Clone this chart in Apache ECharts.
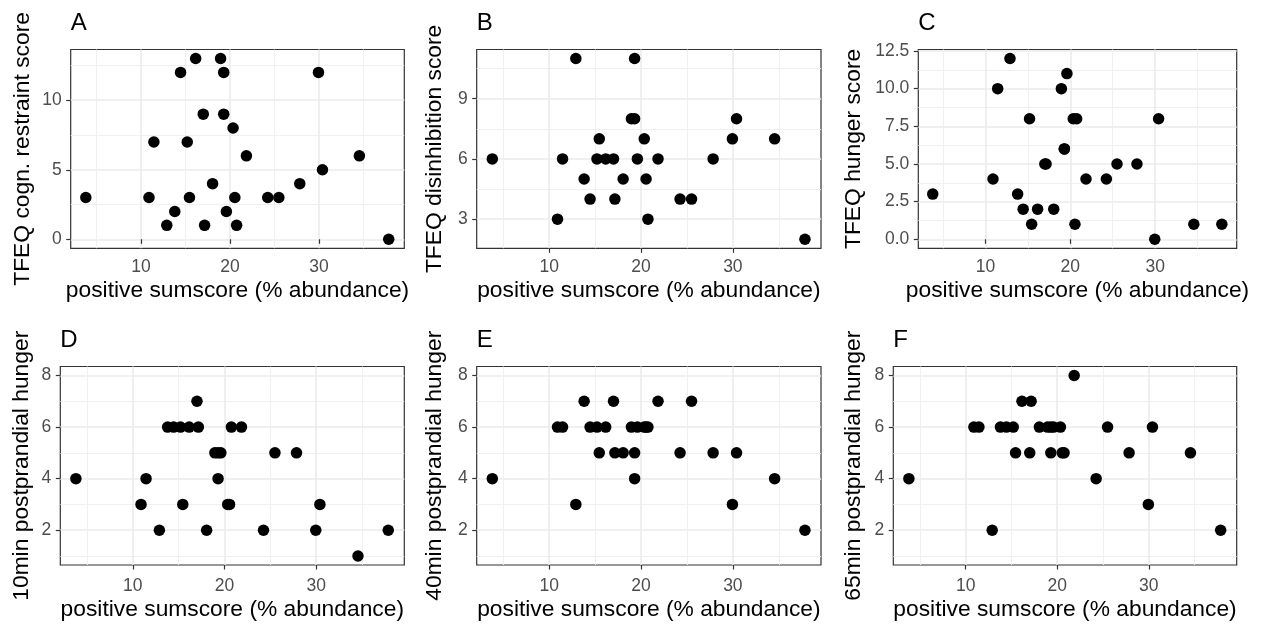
<!DOCTYPE html>
<html>
<head>
<meta charset="utf-8">
<script src="https://cdn.jsdelivr.net/npm/echarts@6/dist/echarts.min.js"></script>
<style>
html,body{margin:0;padding:0;background:#fff;}
#chart{width:1267px;height:626px;}
</style>
</head>
<body>
<div id="chart"></div>
<script>
// positive sumscore (% abundance), one value per subject
const positiveSumscore = [3.8, 10.9, 11.45, 12.9, 13.8, 14.45, 15.2, 15.45, 16.15, 17.0, 17.15, 18.05, 18.95, 19.3, 19.3, 19.6, 20.35, 20.55, 20.75, 21.85, 24.25, 25.5, 27.85, 29.95, 30.4, 34.55, 37.85];
// outcome scores in the same subject order
const restraintScore     = [3, 3, 7, 1, 2, 12, 7, 3, 13, 9, 1, 4, 13, 12, 9, 2, 8, 3, 1, 6, 3, 3, 4, 12, 5, 6, 0];
const disinhibitionScore = [6, 3, 6, 11, 5, 4, 6, 7, 6, 6, 4, 5, 8, 8, 11, 6, 7, 5, 3, 6, 4, 4, 6, 7, 8, 7, 2];
const hungerScore        = [3, 4, 10, 12, 3, 2, 8, 1, 2, 5, 5, 2, 10, 6, 6, 11, 8, 1, 8, 4, 4, 5, 5, 0, 8, 1, 1];
const hunger10min        = [4, 3, 4, 2, 6, 6, 6, 3, 6, 7, 6, 2, 5, 5, 4, 5, 3, 3, 6, 6, 2, 5, 5, 2, 3, 1, 2];
const hunger40min        = [4, 6, 6, 3, 7, 6, 6, 5, 6, 7, 5, 5, 6, 5, 4, 6, 6, 6, 6, 7, 5, 7, 5, 3, 5, 4, 2];
const hunger65min        = [4, 6, 6, 2, 6, 6, 6, 5, 7, 5, 7, 6, 6, 5, 6, 6, 6, 5, 5, 8, 4, 6, 5, 3, 6, 5, 2];

const panelTags = ['A', 'B', 'C', 'D', 'E', 'F'];
const yTitles = ['TFEQ cogn. restraint score', 'TFEQ disinhibition score', 'TFEQ hunger score',
                 '10min postprandial hunger', '40min postprandial hunger', '65min postprandial hunger'];
const xTitle = 'positive sumscore (% abundance)';
const xTicks = [10, 20, 30];
const xMinorTicks = [5, 15, 25, 35];
const yTicks = [[0, 5, 10], [3, 6, 9], [0, 2.5, 5, 7.5, 10, 12.5], [2, 4, 6, 8], [2, 4, 6, 8], [2, 4, 6, 8]];
const yMinorTicks = [[2.5, 7.5, 12.5], [4.5, 7.5, 10.5], [1.25, 3.75, 6.25, 8.75, 11.25], [1, 3, 5, 7], [1, 3, 5, 7], [1, 3, 5, 7]];
const yValues = [restraintScore, disinhibitionScore, hungerScore, hunger10min, hunger40min, hunger65min];

// layout / style
const grids = [
  {left: 70.7, top: 49.5, width: 333.6, height: 198.8},
  {left: 476.7, top: 49.5, width: 344.3, height: 198.8},
  {left: 918.3, top: 49.5, width: 318.4, height: 198.8},
  {left: 60.3, top: 366.5, width: 344, height: 198.5},
  {left: 476.7, top: 366.5, width: 344.3, height: 198.5},
  {left: 893.3, top: 366.5, width: 343.4, height: 198.5}
];
const yRanges = [[-0.65, 13.65], [1.55, 11.45], [-0.6, 12.6], [0.65, 8.35], [0.65, 8.35], [0.65, 8.35]];
const xRange = [2.1, 39.6];
const yNameGaps = [36, 30.5, 53.5, 27.5, 30.5, 28];
const xNameGaps = [31, 31, 31, 33, 33, 33];
const xLabelMargins = [10, 10, 10, 12, 12, 12];
const FONT = '"Liberation Sans", Arial, Helvetica, sans-serif';
const majorGrid = {show: true, lineStyle: {color: '#EBEBEB', width: 1.6}};
const minorGrid = {show: true, lineStyle: {color: '#EEEEEE', width: 0.9}};

const option = {
  animation: false,
  backgroundColor: '#ffffff',
  textStyle: {fontFamily: FONT},
  title: [], grid: [], xAxis: [], yAxis: [], series: []
};

grids.forEach((g, i) => {
  option.grid.push(Object.assign({show: true, borderColor: '#333333', borderWidth: 1.2, backgroundColor: '#ffffff', containLabel: false}, g));
  option.title.push({
    text: panelTags[i], left: g.left, top: g.top - 38, padding: 0,
    textStyle: {fontFamily: FONT, fontSize: 24, fontWeight: 'normal', color: '#000'}
  });
  // minor grid axes (hidden)
  option.xAxis.push({
    type: 'value', gridIndex: i, min: xRange[0], max: xRange[1],
    axisLine: {show: false}, axisLabel: {show: false},
    axisTick: {show: false, customValues: xMinorTicks},
    splitLine: minorGrid
  });
  option.yAxis.push({
    type: 'value', gridIndex: i, min: yRanges[i][0], max: yRanges[i][1],
    axisLine: {show: false}, axisLabel: {show: false},
    axisTick: {show: false, customValues: yMinorTicks[i]},
    splitLine: minorGrid
  });
  // main axes
  option.xAxis.push({
    type: 'value', gridIndex: i, position: 'bottom', min: xRange[0], max: xRange[1],
    name: xTitle, nameLocation: 'middle', nameGap: xNameGaps[i],
    nameTextStyle: {fontFamily: FONT, fontSize: 22.8, color: '#000'},
    axisLine: {show: false},
    axisTick: {show: true, length: 4.5, customValues: xTicks, lineStyle: {color: '#333333', width: 1.2}},
    axisLabel: {show: true, margin: xLabelMargins[i], customValues: xTicks, fontFamily: FONT, fontSize: 17.5, color: '#4D4D4D'},
    splitLine: majorGrid
  });
  option.yAxis.push({
    type: 'value', gridIndex: i, position: 'left', min: yRanges[i][0], max: yRanges[i][1],
    name: yTitles[i], nameLocation: 'middle', nameGap: yNameGaps[i],
    nameTextStyle: {fontFamily: FONT, fontSize: 22.8, color: '#000'},
    axisLine: {show: false},
    axisTick: {show: true, length: 4.5, customValues: yTicks[i], lineStyle: {color: '#333333', width: 1.2}},
    axisLabel: {show: true, margin: 9, customValues: yTicks[i], fontFamily: FONT, fontSize: 17.5, color: '#4D4D4D',
      formatter: i === 2 ? (v => Number(v).toFixed(1)) : (v => String(v))},
    splitLine: majorGrid
  });
  option.series.push({
    type: 'scatter', xAxisIndex: 2 * i + 1, yAxisIndex: 2 * i + 1,
    symbol: 'circle', symbolSize: 11.5,
    itemStyle: {color: '#000000', opacity: 1},
    emphasis: {disabled: true},
    data: positiveSumscore.map((x, k) => [x, yValues[i][k]])
  });
});

const chart = echarts.init(document.getElementById('chart'), null, {renderer: 'canvas'});
chart.setOption(option);
</script>
</body>
</html>
